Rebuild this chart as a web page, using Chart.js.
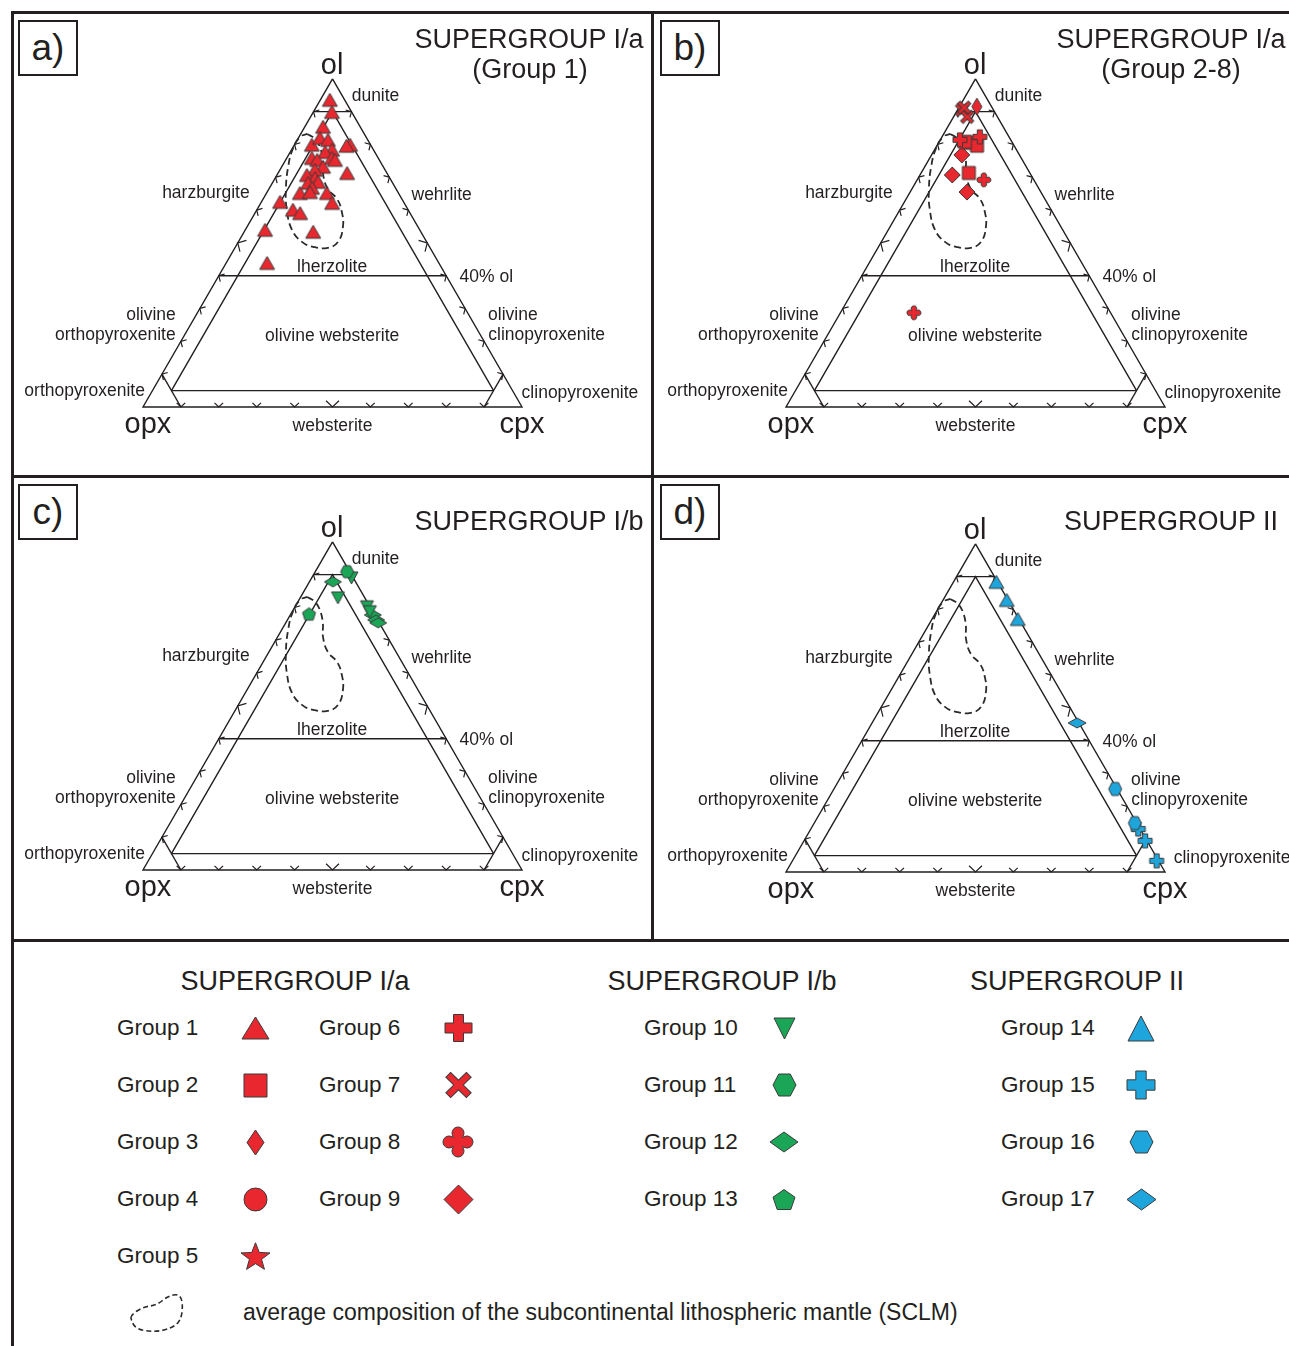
<!DOCTYPE html>
<html>
<head>
<meta charset="utf-8">
<script src="https://cdn.jsdelivr.net/npm/chart.js@4/dist/chart.umd.min.js"></script>
<style>
  body { margin: 0; background: #fff; width: 1289px; height: 1346px; position: relative; overflow: hidden;
         font-family: "Liberation Sans", Arial, Helvetica, sans-serif; color: #231f20; }
  .rule { position: absolute; background: #231f20; z-index: 5; }
  .panel { position: absolute; width: 640px; height: 464px; }
  .tag { position: absolute; width: 56px; height: 52px; border: 2px solid #231f20; font-size: 37px;
         display: flex; align-items: center; justify-content: center; z-index: 4; background: #fff; }
  .ctr { position: absolute; white-space: nowrap; transform: translate(-50%, -50%); }
  .title { font-size: 27px; line-height: 28px; }
  .lg { position: absolute; white-space: nowrap; font-size: 22.5px; line-height: 24px; transform: translateY(-50%); }
  .mk { position: absolute; }
</style>
</head>
<body>
<div class="rule" style="left:11px;top:11px;width:1278px;height:3px"></div>
<div class="rule" style="left:11px;top:11px;width:3px;height:1335px"></div>
<div class="rule" style="left:651px;top:11px;width:3px;height:930px"></div>
<div class="rule" style="left:11px;top:475px;width:1278px;height:3px"></div>
<div class="rule" style="left:11px;top:939px;width:1278px;height:3px"></div>

<div class="panel" style="left:12px;top:12px"><canvas id="pa" width="640" height="464"></canvas></div>
<div class="panel" style="left:652px;top:12px"><canvas id="pb" width="640" height="464"></canvas></div>
<div class="panel" style="left:12px;top:476px"><canvas id="pc" width="640" height="464"></canvas></div>
<div class="panel" style="left:652px;top:476px"><canvas id="pd" width="640" height="464"></canvas></div>

<div class="tag" style="left:18px;top:20px">a)</div>
<div class="tag" style="left:660px;top:20px">b)</div>
<div class="tag" style="left:18px;top:484px">c)</div>
<div class="tag" style="left:660px;top:484px">d)</div>

<div class="ctr title" style="left:529px;top:39px">SUPERGROUP I/a</div>
<div class="ctr title" style="left:530px;top:69px">(Group 1)</div>
<div class="ctr title" style="left:1171px;top:39px">SUPERGROUP I/a</div>
<div class="ctr title" style="left:1171px;top:69px">(Group 2-8)</div>
<div class="ctr title" style="left:529px;top:521px">SUPERGROUP I/b</div>
<div class="ctr title" style="left:1171px;top:521px">SUPERGROUP II</div>

<div id="legend"></div>

<script>
// compositions as [ol, opx, cpx] in %
const group1 = [
  [93.6, 3.9, 2.5], [89.9, 5.2, 4.9], [85.4, 9.8, 4.8], [79.9, 5.4, 14.7], [79.6, 6.5, 13.9],
  [79.9, 15.5, 4.6], [82.0, 12.3, 5.7], [81.4, 10.5, 8.1], [78.4, 10.9, 10.7], [77.7, 13.1, 9.2],
  [75.9, 17.5, 6.6], [75.3, 16.4, 8.3], [75.9, 12.2, 11.9], [75.3, 11.7, 13.0], [73.2, 15.9, 10.9],
  [72.3, 18.5, 9.2], [70.7, 21.4, 7.9], [71.3, 10.5, 18.2], [69.8, 19.7, 10.5], [68.6, 19.5, 11.9],
  [68.3, 22.3, 9.4], [66.8, 22.0, 11.2], [65.2, 26.0, 8.8], [65.2, 18.9, 15.9], [65.5, 23.2, 11.3],
  [62.2, 19.0, 18.8], [62.5, 32.6, 4.9], [60.1, 30.4, 9.5], [59.1, 29.0, 11.9], [54.0, 40.8, 5.2],
  [53.4, 28.4, 18.2], [43.9, 45.3, 10.8]
];
const group2 = [[80.5, 11.2, 8.3], [79.6, 9.8, 10.6], [80.8, 12.4, 6.8], [71.3, 16.1, 12.6]];
const group3 = [[91.5, 3.9, 4.6]];
const group6 = [[81.4, 13.4, 5.2], [82.3, 7.7, 10.0]];
const group7 = [[90.5, 8.3, 1.2], [88.4, 8.0, 3.6], [91.2, 7.4, 1.4]];
const group8 = [[69.2, 13.2, 17.6], [28.7, 51.9, 19.4]];
const group9 = [[76.8, 15.2, 8.0], [70.7, 20.8, 8.5], [65.5, 19.5, 15.0]];
const group10 = [[89.0, 0.5, 10.5], [82.9, 7.1, 10.0], [80.2, 0.8, 19.0], [78.7, 0.8, 20.5]];
const group11 = [[90.9, 0.7, 8.4]];
const group12 = [[87.8, 6.0, 6.2], [77.7, 0.5, 21.8], [76.2, 0.4, 23.4], [75.3, 0.3, 24.4]];
const group13 = [[78.0, 17.2, 4.8]];
const group14 = [[88.4, 0.3, 11.3], [82.9, 0.3, 16.8], [77.1, 0.3, 22.6]];
const group15 = [[13.1, 0.5, 86.4], [9.5, 0.5, 90.0], [3.4, 0.5, 96.1]];
const group16 = [[25.3, 0.5, 74.2], [14.9, 0.5, 84.6]];
const group17 = [[45.4, 0.5, 54.1]];

// average SCLM field outline
const sclm = [
  [83.2, 15.1, 1.7], [81.7, 13.8, 4.5], [79.3, 13.7, 7.0], [75.3, 14.9, 9.8], [71.0, 17.0, 12.0],
  [66.5, 18.0, 15.5], [63.4, 17.1, 19.5], [59.5, 17.8, 22.7], [54.9, 19.8, 25.3], [50.3, 23.4, 26.3],
  [48.5, 27.0, 24.5], [48.8, 30.7, 20.5], [50.3, 32.9, 16.8], [54.0, 33.7, 12.3], [60.1, 32.0, 7.9],
  [66.2, 29.2, 4.6], [73.2, 25.1, 1.7], [78.7, 21.1, 0.2], [82.3, 17.4, 0.3]
];

const groupNames = ['Group 1', 'Group 2', 'Group 3', 'Group 4', 'Group 5', 'Group 6', 'Group 7', 'Group 8', 'Group 9',
  'Group 10', 'Group 11', 'Group 12', 'Group 13', 'Group 14', 'Group 15', 'Group 16', 'Group 17'];
const groupData = { 1: group1, 2: group2, 3: group3, 4: [], 5: [], 6: group6, 7: group7, 8: group8, 9: group9,
  10: group10, 11: group11, 12: group12, 13: group13, 14: group14, 15: group15, 16: group16, 17: group17 };

const INK = '#231f20', EDGE = '#3a3a3a';
const RED = '#e8282e', GREEN = '#1ba557', BLUE = '#1ea5dc';
const FONT = '"Liberation Sans", Arial, Helvetica, sans-serif';

// shape, colour, size in panel (w,h), size in legend (w,h)
const markers = {
  1: ['triangle', RED, 15, 13, 27, 22],
  2: ['square', RED, 13, 13, 23, 23],
  3: ['diamond', RED, 10, 17, 17, 25],
  4: ['circle', RED, 12, 12, 23, 23],
  5: ['star', RED, 14, 14, 29, 28],
  6: ['plus', RED, 14, 14, 27, 28],
  7: ['x', RED, 13, 13, 25, 26],
  8: ['quatrefoil', RED, 14, 14, 30, 30],
  9: ['diamond', RED, 16, 16, 29, 29],
  10: ['invTriangle', GREEN, 13, 12, 21, 21],
  11: ['hexagon', GREEN, 13, 12, 23, 22],
  12: ['diamond', GREEN, 17, 10, 28, 20],
  13: ['pentagon', GREEN, 13, 13, 22, 21],
  14: ['triangle', BLUE, 15, 13, 26, 25],
  15: ['plus', BLUE, 14, 14, 28, 30],
  16: ['hexagon', BLUE, 13, 13, 23, 22],
  17: ['diamond', BLUE, 18, 10, 29, 21]
};

const SQ3 = Math.sqrt(3) / 2;
const PX = 3.79; // pixels per 1 %
const toXY = ([ol, opx, cpx]) => ({ x: cpx + ol / 2, y: ol * SQ3 });

function makeMarker(shape, fill, w, h) {
  const c = document.createElement('canvas');
  c.width = Math.ceil(w) + 4; c.height = Math.ceil(h) + 4;
  const g = c.getContext('2d');
  g.translate(c.width / 2, c.height / 2);
  const hw = w / 2, hh = h / 2;
  const poly = pts => pts.forEach(([a, b], i) => i ? g.lineTo(a, b) : g.moveTo(a, b));
  const plus = (s, t) => {
    const a = s / 2, b = t / 2;
    poly([[-b, -a], [b, -a], [b, -b], [a, -b], [a, b], [b, b], [b, a], [-b, a], [-b, b], [-a, b], [-a, -b], [-b, -b]]);
  };
  g.beginPath();
  if (shape === 'triangle') poly([[0, -hh], [hw, hh], [-hw, hh]]);
  else if (shape === 'invTriangle') poly([[-hw, -hh], [hw, -hh], [0, hh]]);
  else if (shape === 'square') poly([[-hw, -hh], [hw, -hh], [hw, hh], [-hw, hh]]);
  else if (shape === 'diamond') poly([[0, -hh], [hw, 0], [0, hh], [-hw, 0]]);
  else if (shape === 'circle') g.ellipse(0, 0, hw, hh, 0, 0, Math.PI * 2);
  else if (shape === 'hexagon') poly([[-hw, 0], [-hw / 2, -hh], [hw / 2, -hh], [hw, 0], [hw / 2, hh], [-hw / 2, hh]]);
  else if (shape === 'pentagon' || shape === 'star') {
    const n = shape === 'star' ? 10 : 5;
    const R = w / 1.902, off = 0.0955 * R, pts = [];
    for (let k = 0; k < n; k++) {
      const a = -Math.PI / 2 + k * 2 * Math.PI / n;
      const r = shape === 'star' && k % 2 ? R * 0.42 : R;
      pts.push([Math.cos(a) * r, Math.sin(a) * r * (h / w) + off]);
    }
    poly(pts);
  } else if (shape === 'plus') {
    plus(w, w * 0.37);
  } else if (shape === 'x') {
    g.rotate(Math.PI / 4);
    plus(w * 1.16, w * 0.27);
  } else if (shape === 'quatrefoil') {
    const r = w * 0.2, d = w / 2 - r, cc = w * 0.15, span = Math.PI / 2 + 0.35;
    for (let k = 0; k < 4; k++) {
      const a = k * Math.PI / 2;
      const ca = a - Math.PI / 4;
      g.lineTo(Math.cos(ca) * cc * Math.SQRT2, Math.sin(ca) * cc * Math.SQRT2);
      g.arc(Math.cos(a) * d, Math.sin(a) * d, r, a - span, a + span);
    }
  }
  g.closePath();
  g.fillStyle = fill; g.fill();
  g.lineWidth = 1; g.strokeStyle = EDGE; g.stroke();
  return c;
}

// classification frame of the ol-opx-cpx triangle
const frameLines = [
  [[100, 0, 0], [0, 100, 0], [0, 0, 100], [100, 0, 0]],
  [[90, 10, 0], [90, 0, 10]],
  [[40, 60, 0], [40, 0, 60]],
  [[5, 90, 5], [5, 5, 90]],
  [[5, 90, 5], [90, 5, 5], [5, 5, 90]],
  [[10, 90, 0], [0, 90, 10]],
  [[10, 0, 90], [0, 10, 90]]
];
// text, x, y (triangle units), size
const fieldLabels = [
  ['ol', 49.9, 90.0, 29], ['opx', 1.3, -4.8, 29], ['cpx', 100.0, -4.8, 29],
  ['dunite', 61.35, 82.1, 17.5], ['harzburgite', 16.6, 56.5, 17.5], ['wehrlite', 78.8, 56.0, 17.5],
  ['lherzolite', 49.9, 37.0, 17.5], ['40% ol', 90.6, 34.3, 17.5],
  ['olivine', 2.1, 24.3, 17.5], ['orthopyroxenite', -7.3, 19.0, 17.5],
  ['olivine websterite', 49.9, 18.8, 17.5],
  ['olivine', 97.6, 24.3, 17.5], ['clinopyroxenite', 106.5, 19.0, 17.5],
  ['orthopyroxenite', -15.4, 4.25, 17.5], ['clinopyroxenite', 115.3, 3.7, 17.5, 'corner'],
  ['websterite', 50.0, -5.0, 17.5]
];

const ternaryFrame = {
  id: 'ternaryFrame',
  beforeDatasetsDraw(chart, args, opts) {
    const { ctx, scales: { x, y } } = chart;
    const P = t => { const c = toXY(t); return [x.getPixelForValue(c.x), y.getPixelForValue(c.y)]; };
    ctx.save();
    ctx.strokeStyle = INK; ctx.lineWidth = 1.4; ctx.lineJoin = 'miter';
    frameLines.forEach(seg => {
      ctx.beginPath();
      seg.forEach((t, i) => { const [px, py] = P(t); i ? ctx.lineTo(px, py) : ctx.moveTo(px, py); });
      ctx.stroke();
    });
    const arrow = ([tx, ty], [dx, dy], L) => {
      const a = 0.8;
      const r = s => [dx * Math.cos(s) - dy * Math.sin(s), dx * Math.sin(s) + dy * Math.cos(s)];
      const [ax, ay] = r(a), [bx, by] = r(-a);
      ctx.beginPath();
      ctx.moveTo(tx - L * ax, ty - L * ay); ctx.lineTo(tx, ty); ctx.lineTo(tx - L * bx, ty - L * by);
      ctx.stroke();
    };
    ctx.lineWidth = 1.2;
    for (let k = 1; k <= 9; k++) {
      const v = k * 10, L = k === 5 ? 9 : 6;
      arrow(P([v, 100 - v, 0]), [-SQ3, -0.5], L);
      arrow(P([v, 0, 100 - v]), [SQ3, -0.5], L);
      arrow(P([0, 100 - v, v]), [0, 1], L);
    }
    ctx.fillStyle = INK; ctx.textAlign = 'center'; ctx.textBaseline = 'middle';
    fieldLabels.forEach(([txt, lx, ly, size, tag]) => {
      ctx.font = size + 'px ' + FONT;
      const sx = tag === 'corner' ? (opts.cornerShift || 0) : 0;
      ctx.fillText(txt, x.getPixelForValue(lx + sx), y.getPixelForValue(ly));
    });
    ctx.restore();
  }
};

const panels = [
  { id: 'pa', blx: 131, bly: 395, groups: [1] },
  { id: 'pb', blx: 134, bly: 395, groups: [3, 7, 6, 8, 2, 9] },
  { id: 'pc', blx: 131, bly: 394, groups: [11, 10, 12, 13] },
  { id: 'pd', blx: 134, bly: 396, groups: [14, 17, 16, 15], cornerShift: 2.4 }
];

panels.forEach(p => {
  const W = 640, H = 464;
  const datasets = p.groups.map(n => {
    const [shape, col, w, h] = markers[n];
    return {
      label: groupNames[n - 1],
      data: groupData[n].map(toXY),
      pointStyle: makeMarker(shape, col, w, h),
      pointRadius: 5,
      clip: false
    };
  });
  datasets.push({
    label: 'SCLM',
    type: 'line',
    data: sclm.concat([sclm[0]]).map(toXY),
    showLine: true,
    borderColor: '#2b2b2b',
    borderWidth: 1.8,
    borderDash: [7, 4],
    tension: 0.45,
    pointRadius: 0,
    fill: false,
    order: 10
  });
  new Chart(document.getElementById(p.id), {
    type: 'scatter',
    data: { datasets },
    options: {
      responsive: false,
      animation: false,
      events: [],
      devicePixelRatio: 1,
      layout: { padding: 0, autoPadding: false },
      plugins: {
        legend: { display: false },
        tooltip: { enabled: false },
        ternaryFrame: { cornerShift: p.cornerShift || 0 }
      },
      scales: {
        x: { type: 'linear', display: false, min: -p.blx / PX, max: (W - p.blx) / PX },
        y: { type: 'linear', display: false, min: -(H - p.bly) / PX, max: p.bly / PX }
      }
    },
    plugins: [ternaryFrame]
  });
});

// legend
const legend = document.getElementById('legend');
const legendTitles = [['SUPERGROUP I/a', 295], ['SUPERGROUP I/b', 722], ['SUPERGROUP II', 1077]];
const legendCols = [
  { tx: 117, mx: 255, items: [1, 2, 3, 4, 5] },
  { tx: 319, mx: 458, items: [6, 7, 8, 9] },
  { tx: 644, mx: 784, items: [10, 11, 12, 13] },
  { tx: 1001, mx: 1141, items: [14, 15, 16, 17] }
];
const rowY = [1028, 1085, 1142, 1199, 1256];
legendTitles.forEach(([t, cx]) => {
  const d = document.createElement('div');
  d.className = 'ctr title'; d.style.left = cx + 'px'; d.style.top = '981px'; d.textContent = t;
  legend.appendChild(d);
});
legendCols.forEach(col => col.items.forEach((n, i) => {
  const d = document.createElement('div');
  d.className = 'lg'; d.style.left = col.tx + 'px'; d.style.top = rowY[i] + 'px';
  d.textContent = groupNames[n - 1];
  legend.appendChild(d);
  const [shape, c, , , w, h] = markers[n];
  const m = makeMarker(shape, c, w, h);
  m.className = 'mk';
  m.style.left = (col.mx - m.width / 2) + 'px'; m.style.top = (rowY[i] - m.height / 2) + 'px';
  legend.appendChild(m);
}));

// SCLM symbol
const icon = document.createElement('canvas');
icon.width = 70; icon.height = 50; icon.className = 'mk';
icon.style.left = (157 - 35) + 'px'; icon.style.top = (1312 - 25) + 'px';
legend.appendChild(icon);
(() => {
  const g = icon.getContext('2d');
  g.translate(35, 25);
  const pts = [[-26, 3], [-14, -5], [0, -7], [11, -16], [22, -18], [26, -9], [24, 9], [13, 17], [-4, 20], [-21, 17], [-26, 8]];
  g.beginPath();
  const mid = (a, b) => [(a[0] + b[0]) / 2, (a[1] + b[1]) / 2];
  let s = mid(pts[pts.length - 1], pts[0]);
  g.moveTo(s[0], s[1]);
  pts.forEach((p, i) => {
    const q = mid(p, pts[(i + 1) % pts.length]);
    g.quadraticCurveTo(p[0], p[1], q[0], q[1]);
  });
  g.setLineDash([5, 3]);
  g.lineWidth = 1.6; g.strokeStyle = '#2b2b2b'; g.stroke();
})();
const sclmText = document.createElement('div');
sclmText.className = 'lg'; sclmText.style.left = '243px'; sclmText.style.top = '1312px'; sclmText.style.fontSize = '23px';
sclmText.textContent = 'average composition of the subcontinental lithospheric mantle (SCLM)';
legend.appendChild(sclmText);
</script>
</body>
</html>
